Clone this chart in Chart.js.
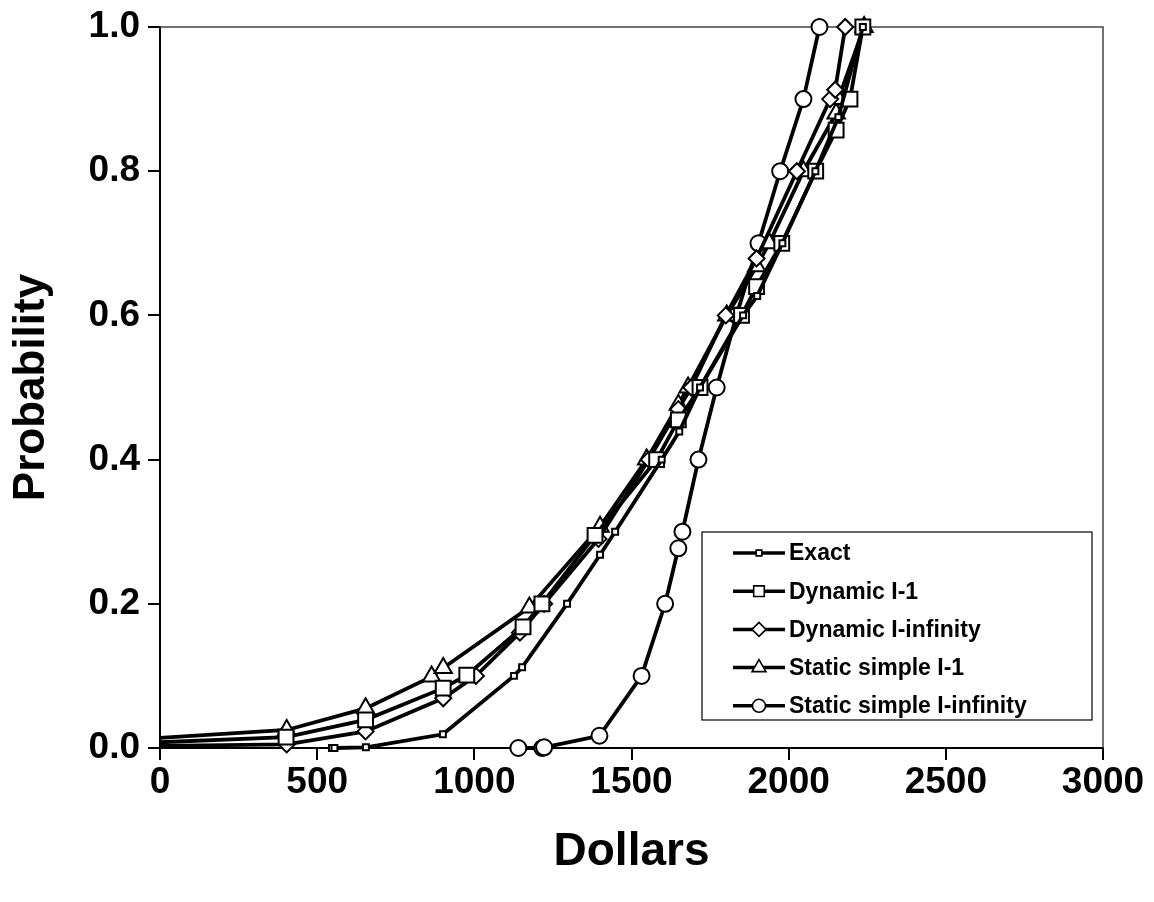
<!DOCTYPE html>
<html><head><meta charset="utf-8">
<script src="https://cdn.jsdelivr.net/npm/chart.js@4.4.0/dist/chart.umd.min.js"></script>
<style>html,body{margin:0;padding:0;background:#fff;}</style>
</head><body>
<canvas id="c" width="1154" height="902"></canvas>
<script>
const seriesNames = ['Exact', 'Dynamic I-1', 'Dynamic I-infinity', 'Static simple I-1', 'Static simple I-infinity'];

const exactX = [547, 555, 655, 900, 1126, 1152, 1295, 1400, 1448, 1596, 1652, 1718, 1855, 1900, 1980, 2085, 2158, 2236];
const exactY = [0, 0, 0.001, 0.019, 0.10, 0.112, 0.20, 0.268, 0.30, 0.40, 0.439, 0.50, 0.60, 0.627, 0.70, 0.80, 0.875, 1.0];

const dynL1X = [0, 401, 654, 901, 976, 1155, 1215, 1384, 1580, 1649, 1718, 1850, 1898, 1978, 2086, 2151, 2195, 2236];
const dynL1Y = [0.008, 0.015, 0.039, 0.083, 0.101, 0.168, 0.20, 0.295, 0.40, 0.455, 0.50, 0.60, 0.64, 0.70, 0.80, 0.857, 0.90, 1.0];

const dynLinfX = [0, 403, 654, 901, 1005, 1145, 1222, 1395, 1555, 1649, 1690, 1800, 1898, 2026, 2132, 2148, 2180];
const dynLinfY = [0.003, 0.005, 0.023, 0.069, 0.10, 0.16, 0.20, 0.29, 0.40, 0.47, 0.50, 0.60, 0.679, 0.80, 0.90, 0.913, 1.0];

const statL1X = [0, 403, 654, 864, 901, 1175, 1400, 1548, 1649, 1680, 1803, 1898, 1938, 2047, 2151, 2158, 2240];
const statL1Y = [0.014, 0.025, 0.055, 0.099, 0.111, 0.195, 0.307, 0.40, 0.476, 0.50, 0.60, 0.668, 0.70, 0.80, 0.88, 0.90, 1.0];

const statLinfX = [1140, 1216, 1222, 1398, 1532, 1607, 1649, 1662, 1713, 1771, 1834, 1904, 1973, 2047, 2098];
const statLinfY = [0, 0, 0.001, 0.017, 0.10, 0.20, 0.277, 0.30, 0.40, 0.50, 0.60, 0.70, 0.80, 0.90, 1.0];

const xTickValues = [0, 500, 1000, 1500, 2000, 2500, 3000];
const yTickValues = [0, 0.2, 0.4, 0.6, 0.8, 1.0];
const xTitle = 'Dollars';
const yTitle = 'Probability';

const FONT = "'Liberation Sans', Arial, Helvetica, sans-serif";
const toPts = (xs, ys) => xs.map((x, i) => ({x: x, y: ys[i]}));

const styles = [
  {pointStyle: 'rect', radius: 4.2, legendRadius: 4},
  {pointStyle: 'rect', radius: 10.5, legendRadius: 7.5},
  {pointStyle: 'rectRot', radius: 8, legendRadius: 7},
  {pointStyle: 'triangle', radius: 10, legendRadius: 8},
  {pointStyle: 'circle', radius: 8, legendRadius: 6.5}
];
const allData = [[exactX, exactY], [dynL1X, dynL1Y], [dynLinfX, dynLinfY], [statL1X, statL1Y], [statLinfX, statLinfY]];

const datasets = allData.map((d, i) => ({
  label: seriesNames[i],
  data: toPts(d[0], d[1]),
  borderColor: '#000',
  backgroundColor: '#fff',
  borderWidth: 3.8,
  pointStyle: styles[i].pointStyle,
  pointRadius: c => (c.raw && c.raw.x <= 0) ? 0 : styles[i].radius,
  pointBorderWidth: 2,
  pointBackgroundColor: '#fff',
  pointBorderColor: '#000',
  tension: 0,
  clip: false,
  fill: false
}));

const frame = {
  id: 'frame',
  beforeDatasetsDraw(chart) {
    const {ctx, chartArea: a} = chart;
    ctx.save();
    ctx.strokeStyle = '#444';
    ctx.lineWidth = 1.5;
    ctx.beginPath();
    ctx.moveTo(a.left, a.top);
    ctx.lineTo(a.right, a.top);
    ctx.lineTo(a.right, a.bottom);
    ctx.stroke();
    ctx.restore();
  }
};

const boxLegend = {
  id: 'boxLegend',
  afterDatasetsDraw(chart) {
    const {ctx, chartArea: a} = chart;
    const left = a.left + 542, top = a.top + 505, w = 390, h = 188;
    ctx.save();
    ctx.fillStyle = '#fff';
    ctx.fillRect(left, top, w, h);
    ctx.strokeStyle = '#000';
    ctx.lineWidth = 1.2;
    ctx.strokeRect(left, top, w, h);
    chart.data.datasets.forEach((ds, i) => {
      const y = top + 21 + i * 38.2;
      ctx.strokeStyle = '#000';
      ctx.lineWidth = 3.5;
      ctx.beginPath();
      ctx.moveTo(left + 31, y);
      ctx.lineTo(left + 83, y);
      ctx.stroke();
      ctx.fillStyle = '#fff';
      ctx.lineWidth = 1.6;
      Chart.helpers.drawPoint(ctx, {pointStyle: styles[i].pointStyle, radius: styles[i].legendRadius, rotation: 0, borderWidth: 1.6}, left + 57, y);
      ctx.fillStyle = '#000';
      ctx.font = 'bold 23px ' + FONT;
      ctx.textBaseline = 'middle';
      ctx.textAlign = 'left';
      ctx.fillText(ds.label, left + 87, y + 1);
    });
    ctx.restore();
  }
};

new Chart(document.getElementById('c'), {
  type: 'line',
  data: {datasets: datasets},
  plugins: [frame, boxLegend],
  options: {
    responsive: false,
    animation: false,
    devicePixelRatio: 1,
    layout: {autoPadding: false, padding: {top: 27, right: 51, left: 0, bottom: 0}},
    plugins: {legend: {display: false}, tooltip: {enabled: false}},
    scales: {
      x: {
        type: 'linear', min: 0, max: 3000,
        afterFit: s => { s.height = 154; s.paddingLeft = 0; s.paddingRight = 0; },
        afterBuildTicks: s => { s.ticks = xTickValues.map(v => ({value: v})); },
        ticks: {color: '#000', font: {family: FONT, size: 37, weight: 'bold'}, padding: 1, maxRotation: 0, callback: v => String(v)},
        grid: {display: true, drawOnChartArea: false, drawTicks: true, tickLength: 12, color: '#000', lineWidth: 2},
        border: {display: true, color: '#000', width: 2},
        title: {display: true, text: xTitle, color: '#000', font: {family: FONT, size: 46, weight: 'bold', lineHeight: 1}, padding: {top: 0, bottom: 27}}
      },
      y: {
        type: 'linear', min: 0, max: 1,
        afterFit: s => { s.width = 160; s.paddingTop = 0; s.paddingBottom = 0; },
        afterBuildTicks: s => { s.ticks = yTickValues.map(v => ({value: v})); },
        ticks: {color: '#000', font: {family: FONT, size: 37, weight: 'bold'}, padding: 8, callback: v => v.toFixed(1)},
        grid: {display: true, drawOnChartArea: false, drawTicks: true, tickLength: 12, color: '#000', lineWidth: 2},
        border: {display: true, color: '#000', width: 2},
        title: {display: true, text: yTitle, color: '#000', font: {family: FONT, size: 44, weight: 'bold', lineHeight: 1}, padding: {top: 10, bottom: 0}}
      }
    }
  }
});
</script>
</body></html>
